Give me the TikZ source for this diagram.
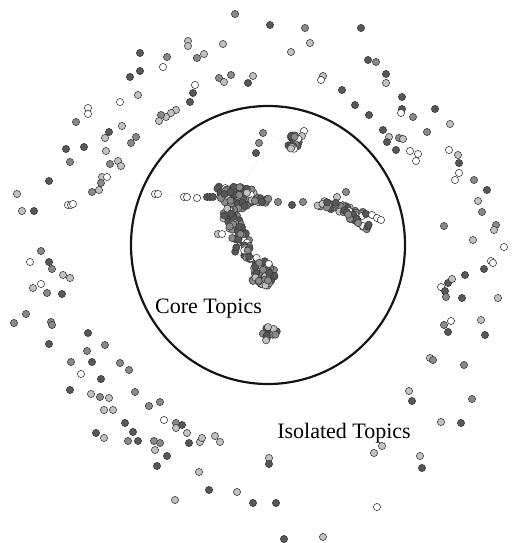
\documentclass[tikz,border=0pt]{standalone}
\usepackage{fontspec}
\setmainfont{Liberation Serif}
\colorlet{gd}{black!66}
\colorlet{gm}{black!46}
\colorlet{gl}{black!24}
\colorlet{gw}{white}
\tikzset{
  dotst/.style={draw=black!78, line width=0.55pt, fill=#1},
  edgest/.style={draw=black!8, line width=0.4pt},
  lbl/.style={font=\fontsize{22}{26}\selectfont, anchor=base, inner sep=0pt},
  ringst/.style={draw=black!92, line width=2.2pt}
}
\pgfmathdeclarerandomlist{dotcols}{{gd}{gm}{gm}{gl}{gw}{gd}{gm}{gd}}
\newcommand\blobdots[5]{%
  \foreach \i in {1,...,#5}{%
    \pgfmathsetmacro\dang{360*rnd}%
    \pgfmathsetmacro\drad{sqrt(rnd)}%
    \pgfmathsetmacro\dotx{#1+#3*\drad*cos(\dang)}%
    \pgfmathsetmacro\doty{#2+#4*\drad*sin(\dang)}%
    \pgfmathrandomitem\dotc{dotcols}%
    \path[dotst=\dotc] (\dotx,\doty) circle[radius=3.6pt];
  }}
\newcommand\segdots[6]{%
  \foreach \i in {1,...,#6}{%
    \pgfmathsetmacro\tpar{rnd}%
    \pgfmathsetmacro\dotx{#1+\tpar*(#3-#1)+#5*rand}%
    \pgfmathsetmacro\doty{#2+\tpar*(#4-#2)+#5*rand}%
    \pgfmathrandomitem\dotc{dotcols}%
    \path[dotst=\dotc] (\dotx,\doty) circle[radius=3.6pt];
  }}
\begin{document}
\begin{tikzpicture}[x=1pt,y=-1pt]
\useasboundingbox (0,0) rectangle (513,543);
% faint edges
\coordinate (e1) at (155,194); \coordinate (e2) at (213,197);
\coordinate (e3) at (262,199); \coordinate (e4) at (318,203);
\coordinate (e5) at (263,133); \coordinate (e6) at (290,142);
\coordinate (e7) at (258,160); \coordinate (e8) at (242,185);
\draw[edgest] (e1) -- (e2); \draw[edgest] (e3) -- (e4);
\draw[edgest] (e5) -- (e6); \draw[edgest] (e7) -- (e8);
% outer dots
\foreach \x/\y/\c in {
235/14/gm, 188/41/gl, 188/46/gl, 223/44/gl, 140/53/gd, 167/57/gm, 197/58/gm, 204/54/gl,
163/67/gw, 140/71/gd, 130/77/gd, 219/78/gm, 224/82/gl, 231/75/gm, 248/83/gd, 253/76/gl,
195/85/gw, 193/93/gd, 190/102/gd, 138/95/gl, 120/102/gw, 88/108/gw, 88/114/gw, 76/122/gm,
176/110/gl, 171/113/gl, 166/117/gl, 161/115/gm, 159/121/gl, 122/126/gl, 109/132/gd, 105/138/gl,
136/137/gm, 131/143/gm, 66/149/gd, 84/147/gd, 106/151/gl, 70/162/gm, 110/164/gm, 118/161/gl,
121/166/gl, 102/177/gl, 107/177/gw, 101/183/gm, 99/190/gl, 92/192/gm, 49/181/gd, 17/194/gl,
22/211/gl, 34/211/gd, 68/205/gw, 71/205/gw, 73/204/gw,
41/251/gm, 30/262/gw, 49/262/gd, 52/269/gm, 63/275/gl, 70/278/gl, 41/284/gw, 33/288/gl,
47/293/gm, 62/294/gd, 26/314/gm, 14/323/gm, 51/322/gm, 52/325/gm, 49/344/gd, 88/333/gd,
87/351/gm, 105/345/gm, 71/362/gm, 92/362/gd, 81/374/gw, 101/379/gd, 120/363/gm, 129/370/gm,
70/390/gd, 91/394/gl, 100/397/gm, 109/398/gl, 135/392/gm, 104/410/gl, 113/410/gl, 149/406/gm,
160/402/gm, 125/423/gd, 133/432/gd, 96/433/gd, 104/438/gl, 128/441/gm, 138/441/gd, 164/420/gw,
176/423/gm, 182/425/gd, 176/428/gl, 187/433/gl, 154/441/gm, 160/443/gm, 155/450/gl, 167/456/gd,
157/466/gd, 189/443/gd, 200/442/gl, 202/438/gl, 215/436/gl, 220/442/gl, 199/472/gl, 209/490/gd,
237/492/gl, 253/503/gd, 175/500/gl,
270/25/gd, 305/28/gm, 361/28/gd, 310/43/gl, 291/52/gl, 368/60/gd, 376/62/gm, 386/74/gd,
386/83/gl, 323/76/gl, 321/80/gw, 342/90/gd, 402/97/gd, 435/109/gd, 402/109/gd, 401/113/gw,
413/117/gm, 355/105/gd, 369/115/gd, 450/124/gl, 383/130/gd, 389/137/gl, 387/142/gd, 399/138/gm,
403/139/gl, 427/132/gm, 396/150/gd, 410/151/gw, 418/154/gw, 416/161/gw, 449/150/gw, 458/155/gl,
459/163/gd, 459/173/gw, 455/180/gw, 474/180/gm, 487/190/gd, 478/201/gl, 482/212/gm, 496/225/gm,
494/230/gl, 444/226/gm, 473/240/gl, 504/247/gw, 491/261/gw, 493/263/gw, 484/269/gd,
465/275/gd, 441/287/gw, 448/283/gd, 452/279/gl, 445/291/gd, 446/297/gm, 462/298/gd, 498/298/gl,
451/321/gw, 444/325/gm, 448/332/gd, 481/320/gl, 485/335/gd, 430/358/gl, 433/360/gm, 464/365/gm,
472/399/gm, 409/391/gl, 412/401/gd, 441/422/gl, 461/423/gd, 382/446/gl, 374/453/gl, 420/456/gl,
422/468/gd, 269/458/gl, 269/464/gd, 276/503/gd, 377/507/gw, 284/539/gd, 323/537/gl}
  {\path[dotst=\c] (\x,\y) circle[radius=3.6pt];}
% inner explicit dots
\foreach \x/\y/\c in {
263/133/gm, 259/143/gm, 256/153/gd, 304/131/gw, 302/136/gl,
155/194/gw, 158/194/gw, 184/197/gw, 187/197/gw, 197/198/gw, 207/197/gd, 210/197/gd, 213/197/gd,
267/199/gw, 278/202/gm, 292/205/gd, 303/202/gm, 337/197/gl, 346/192/gm,
218/234/gl, 222/234/gw}
  {\path[dotst=\c] (\x,\y) circle[radius=3.6pt];}
% dense clusters
\pgfmathsetseed{4711}
\blobdots{293}{142}{6}{7}{20}
\blobdots{271}{334}{9}{8}{16}
\segdots{213}{185}{226}{196}{2.5}{8}
\blobdots{238}{197}{19}{12}{70}
\segdots{250}{201}{268}{200}{3}{12}
\segdots{230}{210}{244}{250}{8}{65}
\segdots{243}{250}{258}{265}{5}{16}
\blobdots{263}{274}{12}{13}{45}
\segdots{318}{203}{348}{210}{4}{26}
\segdots{346}{210}{366}{215}{3}{14}
\segdots{345}{212}{373}{232}{3}{16}
\foreach \x/\y/\c in {366/214/gd, 372/215/gw, 377/218/gw, 381/220/gw}
  {\path[dotst=\c] (\x,\y) circle[radius=3.6pt];}
% ring
\draw[ringst] (268,245) ellipse[x radius=137, y radius=139];
% labels
\node[lbl] (core) at (208.5,313) {Core Topics};
\node[lbl] (iso) at (344,438) {Isolated Topics};
\end{tikzpicture}
\end{document}
